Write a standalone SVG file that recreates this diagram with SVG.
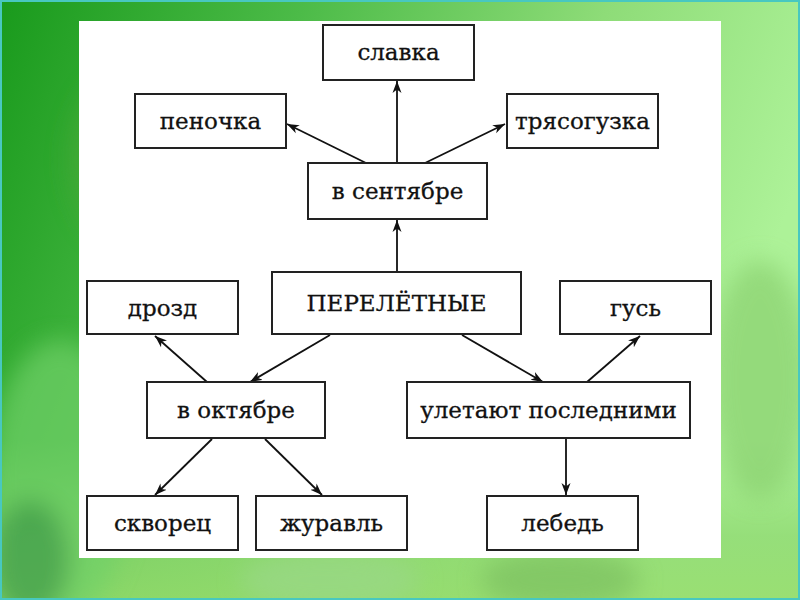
<svg xmlns="http://www.w3.org/2000/svg" width="800" height="600" viewBox="0 0 800 600">
<defs>
<linearGradient id="bg" x1="0" y1="0" x2="1" y2="0.3">
<stop offset="0" stop-color="#199a1c"/>
<stop offset="0.35" stop-color="#4cbb48"/>
<stop offset="0.7" stop-color="#8edc78"/>
<stop offset="1" stop-color="#adf298"/>
</linearGradient>
<linearGradient id="bot" x1="0" y1="0" x2="0" y2="1">
<stop offset="0" stop-color="#8ed870" stop-opacity="0"/>
<stop offset="0.6" stop-color="#8ed870" stop-opacity="0.75"/>
<stop offset="1" stop-color="#96dc6c" stop-opacity="0.85"/>
</linearGradient>
<filter id="blur" x="-20%" y="-20%" width="140%" height="140%"><feGaussianBlur stdDeviation="12"/></filter>
<marker id="arr" viewBox="0 0 12 10" refX="12" refY="5" markerWidth="12" markerHeight="10" markerUnits="userSpaceOnUse" orient="auto">
<path d="M0,0.5 L12,5 L0,9.5 L3.5,5 Z" fill="#111"/>
</marker>
<style>
.box{fill:#fff;stroke:#222;stroke-width:2}
.t{font-family:"DejaVu Serif","Liberation Serif",serif;font-size:23px;fill:#111;stroke:#111;stroke-width:0.3;text-anchor:middle}
.c{stroke:#111;stroke-width:1.8;fill:none;marker-end:url(#arr)}
</style>
</defs>
<g id="background">
<rect x="0" y="0" width="800" height="600" fill="url(#bg)"/>
<rect x="0" y="440" width="800" height="160" fill="url(#bot)"/>
<g filter="url(#blur)" opacity="0.7">
<ellipse cx="60" cy="480" rx="70" ry="140" fill="#6fd068"/>
<ellipse cx="130" cy="160" rx="60" ry="90" fill="#4aa838"/>
<ellipse cx="760" cy="380" rx="50" ry="120" fill="#8ad070"/>
<ellipse cx="330" cy="580" rx="90" ry="30" fill="#9ad888"/>
<ellipse cx="560" cy="580" rx="80" ry="30" fill="#7cc060"/>
<ellipse cx="30" cy="560" rx="40" ry="60" fill="#3a9a48"/>
</g>
<path d="M0,0 H800 V600 H0 Z" fill="none" stroke="#48c8c0" stroke-width="4"/>
</g>
<rect id="panel" x="79" y="21" width="642" height="537" fill="#fff"/>
<g id="connectors">
<line class="c" x1="397" y1="163" x2="397" y2="81"/>
<line class="c" x1="366" y1="163" x2="287" y2="124"/>
<line class="c" x1="425" y1="163" x2="505" y2="124"/>
<line class="c" x1="397" y1="272" x2="397" y2="220"/>
<line class="c" x1="207" y1="382" x2="155" y2="336"/>
<line class="c" x1="330" y1="335" x2="250" y2="382"/>
<line class="c" x1="462" y1="335" x2="543" y2="382"/>
<line class="c" x1="587" y1="382" x2="640" y2="336"/>
<line class="c" x1="212" y1="439" x2="155" y2="495"/>
<line class="c" x1="265" y1="439" x2="322" y2="495"/>
<line class="c" x1="566" y1="439" x2="566" y2="495"/>
</g>
<g id="slavka"><rect class="box" x="323" y="25" width="151" height="55"/><text class="t" x="398.5" y="60">славка</text></g>
<g id="penochka"><rect class="box" x="135" y="94" width="151" height="54"/><text class="t" x="210.5" y="129">пеночка</text></g>
<g id="tryasoguzka"><rect class="box" x="507" y="94" width="151" height="54"/><text class="t" x="582.5" y="129">трясогузка</text></g>
<g id="v-sentyabre"><rect class="box" x="308" y="163" width="179" height="56"/><text class="t" x="397.5" y="199">в сентябре</text></g>
<g id="pereletnye"><rect class="box" x="272" y="272" width="249" height="62"/><text class="t" x="396.5" y="311">ПЕРЕЛЁТНЫЕ</text></g>
<g id="drozd"><rect class="box" x="87" y="281" width="151" height="53"/><text class="t" x="162.5" y="316">дрозд</text></g>
<g id="gus"><rect class="box" x="560" y="281" width="151" height="53"/><text class="t" x="635.5" y="316">гусь</text></g>
<g id="v-oktyabre"><rect class="box" x="147" y="382" width="178" height="56"/><text class="t" x="236" y="418">в октябре</text></g>
<g id="uletayut"><rect class="box" x="407" y="382" width="283" height="56"/><text class="t" x="548.5" y="418">улетают последними</text></g>
<g id="skvorets"><rect class="box" x="87" y="496" width="151" height="54"/><text class="t" x="162.5" y="531">скворец</text></g>
<g id="zhuravl"><rect class="box" x="256" y="496" width="151" height="54"/><text class="t" x="331.5" y="531">журавль</text></g>
<g id="lebed"><rect class="box" x="487" y="496" width="151" height="54"/><text class="t" x="562.5" y="531">лебедь</text></g>
</svg>
